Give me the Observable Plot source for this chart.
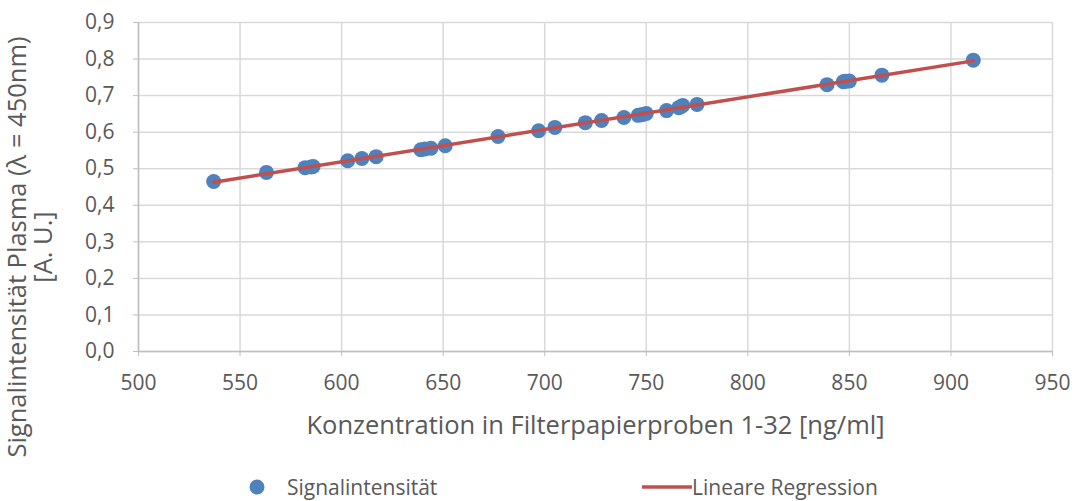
<!DOCTYPE html>
<html><head><meta charset="utf-8">
<script src="https://cdn.jsdelivr.net/npm/d3@7"></script>
<script src="https://cdn.jsdelivr.net/npm/@observablehq/plot@0.6"></script>
<style>
body{margin:0;background:#fff;font-family:"Open Sans",sans-serif;}
#wrap{position:relative;width:1080px;height:501px;}
#legend{position:absolute;left:0;top:460px;width:1080px;height:41px;color:#595959;font-size:21px;}
#legend .item{position:absolute;top:13px;display:flex;align-items:center;}
</style></head><body>
<div id="wrap">
<div id="chart"></div>
<div id="legend">
  <div class="item" style="left:248px"><svg width="18" height="18"><circle cx="9" cy="9" r="7.5" fill="#4f81bd"/></svg><span style="margin-left:21px">Signalintensität</span></div>
  <div class="item" style="left:642px"><svg width="50" height="18"><line x1="0" x2="50" y1="9" y2="9" stroke="#c0504d" stroke-width="3.5"/></svg><span>Lineare Regression</span></div>
</div>
</div>
<script>
const concentration = [537, 563, 582, 585, 586, 603, 610, 617, 639, 641, 644, 651, 677, 697, 705, 720, 728, 739, 746, 748, 750, 760, 766, 767, 768, 775, 839, 847, 848, 850, 866, 911];
const signal = [0.465, 0.490, 0.503, 0.505, 0.506, 0.522, 0.528, 0.533, 0.552, 0.554, 0.556, 0.563, 0.588, 0.604, 0.613, 0.626, 0.632, 0.640, 0.646, 0.648, 0.651, 0.659, 0.667, 0.670, 0.673, 0.676, 0.730, 0.738, 0.739, 0.740, 0.756, 0.797];
const xTicks = [500, 550, 600, 650, 700, 750, 800, 850, 900, 950];
const yTicks = [0, 0.1, 0.2, 0.3, 0.4, 0.5, 0.6, 0.7, 0.8, 0.9];
const xTitle = "Konzentration in Filterpapierproben 1-32 [ng/ml]";
const yTitle = "Signalintensität Plasma (λ = 450nm)\n[A. U.]";

const data = concentration.map((c, i) => ({c, s: signal[i]}));
const font = "'Open Sans', sans-serif";
const gray = "#595959";

const chart = Plot.plot({
  width: 1080, height: 501,
  marginLeft: 138, marginRight: 28, marginTop: 22, marginBottom: 150,
  style: {fontFamily: font, fontSize: "21px", color: gray, background: "transparent"},
  x: {domain: [500, 950]},
  y: {domain: [0, 0.9]},
  marks: [
    Plot.gridX(xTicks, {stroke: "#d9d9d9", strokeOpacity: 1, strokeWidth: 1.5}),
    Plot.gridY(yTicks, {stroke: "#d9d9d9", strokeOpacity: 1, strokeWidth: 1.5}),
    Plot.ruleY([0], {stroke: "#bfbfbf", strokeWidth: 1.5}),
    Plot.ruleX([500], {stroke: "#bfbfbf", strokeWidth: 1.5}),
    Plot.axisX(xTicks, {tickSize: 5, stroke: "#bfbfbf", tickPadding: 19, label: null, fill: gray, fontSize: 21}),
    Plot.axisY(yTicks, {tickSize: 5, stroke: "#bfbfbf", tickPadding: 19, label: null, fill: gray, fontSize: 21, tickFormat: d => d.toFixed(1).replace(".", ",")}),
    Plot.dot(data, {x: "c", y: "s", r: 7.5, fill: "#4f81bd", stroke: "none"}),
    Plot.linearRegressionY(data, {x: "c", y: "s", ci: 0, stroke: "#c0504d", strokeWidth: 3.5}),
    Plot.text([xTitle], {frameAnchor: "bottom", dy: 82, fontSize: 25.5, fill: gray, text: d => d}),
    Plot.text([yTitle], {frameAnchor: "left", dx: -107.5, dy: 60, rotate: -90, fontSize: 25.5, lineHeight: 1.01, fill: gray, text: d => d, textAnchor: "middle", lineAnchor: "middle"})
  ]
});
document.getElementById("chart").appendChild(chart);
</script>
</body></html>
